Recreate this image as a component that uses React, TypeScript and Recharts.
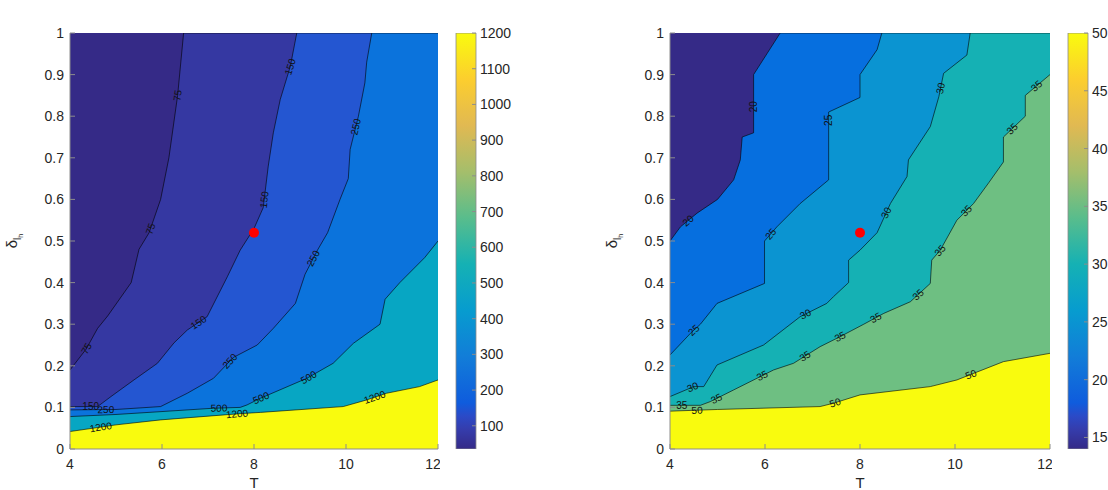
import React from "react";
import { ComposedChart, Area, Bar, XAxis, YAxis, Scatter, ReferenceArea } from "recharts";

type Pt = { T: number; d: number };
type Lbl = { T: number; d: number; v: number };

// axis ticks
const tTicks = [4, 6, 8, 10, 12];
const dTicks = [0, 0.1, 0.2, 0.3, 0.4, 0.5, 0.6, 0.7, 0.8, 0.9, 1];
const barTicksA = [100, 200, 300, 400, 500, 600, 700, 800, 900, 1000, 1100, 1200];
const barTicksB = [15, 20, 25, 30, 35, 40, 45, 50];
const barRangeA = [{ k: "a", range: [35, 1200] }];
const barRangeB = [{ k: "b", range: [14, 50] }];

// (a) contour levels, lines run from the left/bottom edge to the top/right edge
const levelsA = [75, 150, 250, 500, 1200];
const lineA75: Pt[] = [
  { T: 4, d: 0.19 }, { T: 4.35, d: 0.24 }, { T: 4.6, d: 0.29 }, { T: 4.82, d: 0.32 },
  { T: 5.33, d: 0.4 }, { T: 5.5, d: 0.48 }, { T: 5.72, d: 0.52 }, { T: 5.97, d: 0.6 },
  { T: 6.15, d: 0.7 }, { T: 6.34, d: 0.85 }, { T: 6.47, d: 1 }, { T: 12, d: 1 },
];
const lineA150: Pt[] = [
  { T: 4, d: 0.102 }, { T: 4.6, d: 0.102 }, { T: 4.89, d: 0.126 }, { T: 5.39, d: 0.166 },
  { T: 5.9, d: 0.206 }, { T: 6.26, d: 0.255 }, { T: 6.55, d: 0.286 }, { T: 6.98, d: 0.318 },
  { T: 7.42, d: 0.414 }, { T: 7.7, d: 0.478 }, { T: 8.0, d: 0.53 }, { T: 8.2, d: 0.58 },
  { T: 8.31, d: 0.68 }, { T: 8.42, d: 0.76 }, { T: 8.57, d: 0.84 }, { T: 8.79, d: 0.92 },
  { T: 8.93, d: 1 }, { T: 12, d: 1 },
];
const lineA250: Pt[] = [
  { T: 4, d: 0.094 }, { T: 5.0, d: 0.095 }, { T: 5.97, d: 0.102 }, { T: 6.55, d: 0.134 },
  { T: 7.12, d: 0.17 }, { T: 7.55, d: 0.22 }, { T: 8.07, d: 0.25 }, { T: 8.42, d: 0.29 },
  { T: 8.9, d: 0.35 }, { T: 9.11, d: 0.42 }, { T: 9.38, d: 0.478 }, { T: 9.6, d: 0.52 },
  { T: 9.87, d: 0.6 }, { T: 10.05, d: 0.65 }, { T: 10.09, d: 0.72 }, { T: 10.27, d: 0.8 },
  { T: 10.41, d: 0.88 }, { T: 10.45, d: 0.93 }, { T: 10.56, d: 1 }, { T: 12, d: 1 },
];
const lineA500: Pt[] = [
  { T: 4, d: 0.078 }, { T: 5, d: 0.083 }, { T: 6, d: 0.09 }, { T: 7.12, d: 0.098 },
  { T: 7.7, d: 0.1 }, { T: 7.85, d: 0.106 }, { T: 8.14, d: 0.122 }, { T: 9.15, d: 0.17 },
  { T: 9.72, d: 0.206 }, { T: 10.16, d: 0.254 }, { T: 10.74, d: 0.3 }, { T: 10.85, d: 0.36 },
  { T: 11.17, d: 0.4 }, { T: 11.71, d: 0.46 }, { T: 12, d: 0.5 },
];
const lineA1200: Pt[] = [
  { T: 4, d: 0.042 }, { T: 5, d: 0.058 }, { T: 5.97, d: 0.07 }, { T: 7.7, d: 0.085 },
  { T: 8.14, d: 0.088 }, { T: 9.94, d: 0.102 }, { T: 10.45, d: 0.118 }, { T: 10.88, d: 0.134 },
  { T: 11.6, d: 0.15 }, { T: 12, d: 0.166 },
];
const labelsA: Lbl[] = [
  { T: 6.34, d: 0.85, v: 75 }, { T: 5.72, d: 0.53, v: 75 }, { T: 4.3, d: 0.245, v: 75 },
  { T: 4.45, d: 0.1, v: 150 }, { T: 6.82, d: 0.3, v: 150 }, { T: 8.17, d: 0.6, v: 150 },
  { T: 8.75, d: 0.92, v: 150 },
  { T: 4.78, d: 0.094, v: 250 }, { T: 7.49, d: 0.21, v: 250 }, { T: 9.26, d: 0.46, v: 250 },
  { T: 10.2, d: 0.775, v: 250 },
  { T: 7.24, d: 0.098, v: 500 }, { T: 8.17, d: 0.118, v: 500 }, { T: 9.18, d: 0.174, v: 500 },
  { T: 4.67, d: 0.05, v: 1200 }, { T: 7.63, d: 0.086, v: 1200 }, { T: 10.63, d: 0.122, v: 1200 },
];

// (b)
const levelsB = [20, 25, 30, 35, 50];
const lineB20: Pt[] = [
  { T: 4, d: 0.5 }, { T: 4.22, d: 0.534 }, { T: 4.57, d: 0.567 }, { T: 5.0, d: 0.6 },
  { T: 5.34, d: 0.647 }, { T: 5.48, d: 0.695 }, { T: 5.52, d: 0.75 }, { T: 5.76, d: 0.76 },
  { T: 5.76, d: 0.9 }, { T: 6.04, d: 0.95 }, { T: 6.32, d: 1 }, { T: 12, d: 1 },
];
const lineB25: Pt[] = [
  { T: 4, d: 0.226 }, { T: 4.43, d: 0.278 }, { T: 4.64, d: 0.3 }, { T: 4.99, d: 0.35 },
  { T: 5.99, d: 0.398 }, { T: 5.99, d: 0.5 }, { T: 6.25, d: 0.534 }, { T: 6.74, d: 0.59 },
  { T: 7.34, d: 0.647 }, { T: 7.34, d: 0.81 }, { T: 8.0, d: 0.845 }, { T: 8.0, d: 0.9 },
  { T: 8.36, d: 0.96 }, { T: 8.46, d: 1 }, { T: 12, d: 1 },
];
const lineB30: Pt[] = [
  { T: 4, d: 0.126 }, { T: 4.5, d: 0.15 }, { T: 4.71, d: 0.15 }, { T: 4.99, d: 0.202 },
  { T: 5.97, d: 0.25 }, { T: 6.74, d: 0.318 }, { T: 7.3, d: 0.35 }, { T: 7.44, d: 0.366 },
  { T: 7.76, d: 0.4 }, { T: 7.76, d: 0.454 }, { T: 8.0, d: 0.478 }, { T: 8.36, d: 0.52 },
  { T: 8.64, d: 0.59 }, { T: 8.99, d: 0.655 }, { T: 9.02, d: 0.695 }, { T: 9.48, d: 0.775 },
  { T: 9.66, d: 0.847 }, { T: 9.76, d: 0.903 }, { T: 10.25, d: 0.947 }, { T: 10.32, d: 1 },
  { T: 12, d: 1 },
];
const lineB35: Pt[] = [
  { T: 4, d: 0.105 }, { T: 4.64, d: 0.105 }, { T: 4.85, d: 0.114 }, { T: 5.34, d: 0.142 },
  { T: 6.18, d: 0.19 }, { T: 6.6, d: 0.206 }, { T: 7.16, d: 0.246 }, { T: 7.58, d: 0.27 },
  { T: 8.08, d: 0.3 }, { T: 8.5, d: 0.326 }, { T: 9.06, d: 0.354 }, { T: 9.48, d: 0.398 },
  { T: 9.51, d: 0.454 }, { T: 9.69, d: 0.478 }, { T: 10.04, d: 0.55 }, { T: 10.39, d: 0.59 },
  { T: 10.71, d: 0.64 }, { T: 11.02, d: 0.69 }, { T: 11.02, d: 0.75 }, { T: 11.48, d: 0.8 },
  { T: 11.48, d: 0.85 }, { T: 12, d: 0.9 },
];
const lineB50: Pt[] = [
  { T: 4, d: 0.091 }, { T: 5, d: 0.095 }, { T: 7.16, d: 0.102 }, { T: 7.44, d: 0.11 },
  { T: 8.0, d: 0.13 }, { T: 9.48, d: 0.15 }, { T: 10.04, d: 0.166 }, { T: 11.02, d: 0.21 },
  { T: 12, d: 0.23 },
];
const labelsB: Lbl[] = [
  { T: 5.73, d: 0.823, v: 20 }, { T: 4.37, d: 0.55, v: 20 },
  { T: 7.36, d: 0.79, v: 25 }, { T: 6.15, d: 0.514, v: 25 }, { T: 4.53, d: 0.282, v: 25 },
  { T: 4.5, d: 0.142, v: 30 }, { T: 6.88, d: 0.318, v: 30 }, { T: 8.57, d: 0.567, v: 30 },
  { T: 9.69, d: 0.867, v: 30 },
  { T: 4.25, d: 0.103, v: 35 }, { T: 5.0, d: 0.116, v: 35 }, { T: 5.97, d: 0.17, v: 35 },
  { T: 6.85, d: 0.222, v: 35 }, { T: 7.58, d: 0.27, v: 35 }, { T: 8.32, d: 0.318, v: 35 },
  { T: 9.2, d: 0.374, v: 35 }, { T: 9.72, d: 0.474, v: 35 }, { T: 10.22, d: 0.575, v: 35 },
  { T: 11.2, d: 0.77, v: 35 }, { T: 11.73, d: 0.871, v: 35 },
  { T: 4.57, d: 0.091, v: 50 }, { T: 7.48, d: 0.11, v: 50 }, { T: 10.34, d: 0.178, v: 50 },
];

const marker: Pt[] = [{ T: 8, d: 0.52 }];

// region fills, lowest region first
const fillsA = ["#352A87", "#3538A2", "#2456D1", "#0B73DC", "#07A6C3", "#F9FB0E"];
const fillsB = ["#352A87", "#066FDF", "#0B94D1", "#15B1B4", "#6EBF82", "#F9FB0E"];

const parula = [
  [0, "#352A87"], [0.048, "#353DAD"], [0.079, "#2B4AC7"], [0.111, "#0F5CDD"],
  [0.222, "#127DD8"], [0.333, "#079CCF"], [0.444, "#15B1B4"], [0.556, "#59BD8C"],
  [0.667, "#A5BE6B"], [0.778, "#E1B952"], [0.889, "#FCCE2E"], [1, "#F9FB0E"],
] as const;

const FONT = '"Liberation Sans", Arial, Helvetica, sans-serif';
const AX = "#8c8c8c";
const TXT = "#262626";
const H = 490;
const TOP = 33;
const BOTTOM = 41;
const YW = 70;

function placeLabel(l: Lbl, line: Pt[], pxT: number, pxD: number) {
  let best = { dist: Infinity, T: l.T, d: l.d, ang: 0 };
  const px = l.T * pxT;
  const py = -l.d * pxD;
  for (let i = 0; i < line.length - 1; i++) {
    const ax = line[i].T * pxT, ay = -line[i].d * pxD;
    const bx = line[i + 1].T * pxT, by = -line[i + 1].d * pxD;
    const dx = bx - ax, dy = by - ay;
    const len2 = dx * dx + dy * dy;
    if (len2 === 0) continue;
    const t = Math.max(0, Math.min(1, ((px - ax) * dx + (py - ay) * dy) / len2));
    const qx = ax + t * dx, qy = ay + t * dy;
    const dist = (px - qx) ** 2 + (py - qy) ** 2;
    if (dist < best.dist) {
      let ang = (Math.atan2(dy, dx) * 180) / Math.PI;
      if (ang > 90) ang -= 180;
      if (ang < -90) ang += 180;
      best = { dist, T: qx / pxT, d: -qy / pxD, ang };
    }
  }
  return { T: best.T, d: best.d, v: l.v, ang: best.ang };
}

const ContourText = (p: any) => (
  <text
    x={p.cx}
    y={p.cy}
    transform={`rotate(${p.payload.ang} ${p.cx} ${p.cy})`}
    textAnchor="middle"
    dominantBaseline="central"
    fontSize={10}
    fill="#111"
  >
    {p.payload.v}
  </text>
);

const RedDot = (p: any) => <circle cx={p.cx} cy={p.cy} r={5} fill="#ff0000" />;

const DeltaLabel = (p: any) => {
  const { x, y, height } = p.viewBox;
  return (
    <text
      transform={`translate(${x + 17},${y + height / 2}) rotate(-90)`}
      textAnchor="middle"
      fontSize={15}
      fill={TXT}
    >
      δ<tspan fontSize={10} dy={4}>l</tspan>
      <tspan fontSize={7} dy={2}>h</tspan>
    </text>
  );
};

function ContourPanel({
  left,
  width,
  title,
  lines,
  levels,
  fills,
  labels,
}: {
  left: number;
  width: number;
  title: string;
  lines: Pt[][];
  levels: number[];
  fills: string[];
  labels: Lbl[];
}) {
  const plotW = width - YW - 2;
  const pxT = plotW / 8;
  const pxD = H - TOP - BOTTOM;
  const placed = labels.map((l) => placeLabel(l, lines[levels.indexOf(l.v)], pxT, pxD));
  return (
    <div style={{ position: "absolute", left, top: 0 }}>
      <ComposedChart width={width} height={H} margin={{ top: TOP, right: 2, bottom: 0, left: 0 }}>
        <ReferenceArea x1={4} x2={12} y1={0} y2={1} fill={fills[0]} fillOpacity={1} stroke="none" />
        {lines.map((ln, i) => (
          <Area
            key={i}
            data={ln}
            dataKey="d"
            type="linear"
            baseValue={0}
            fill={fills[i + 1]}
            fillOpacity={1}
            stroke="#000"
            strokeWidth={0.6}
            dot={false}
            activeDot={false}
            isAnimationActive={false}
          />
        ))}
        <Scatter data={placed} shape={ContourText} isAnimationActive={false} />
        <Scatter data={marker} shape={RedDot} isAnimationActive={false} />
        <XAxis
          dataKey="T"
          type="number"
          domain={[4, 12]}
          ticks={tTicks}
          allowDataOverflow
          height={BOTTOM}
          tickSize={-5}
          tickMargin={15}
          axisLine={{ stroke: AX }}
          tickLine={{ stroke: AX }}
          tick={{ fontSize: 14, fill: TXT }}
          label={{ value: "T", position: "insideBottom", offset: 2, fontSize: 15, fill: TXT }}
        />
        <XAxis
          xAxisId="top"
          orientation="top"
          type="number"
          domain={[4, 12]}
          ticks={tTicks}
          height={0}
          tickSize={-5}
          axisLine={{ stroke: AX }}
          tickLine={{ stroke: AX }}
          tick={false}
          label={{ value: title, position: "top", offset: 3, fontSize: 15, fill: "#000" }}
        />
        <YAxis
          dataKey="d"
          type="number"
          domain={[0, 1]}
          ticks={dTicks}
          allowDataOverflow
          width={YW}
          tickSize={-5}
          tickMargin={11}
          axisLine={{ stroke: AX }}
          tickLine={{ stroke: AX }}
          tick={{ fontSize: 14, fill: TXT }}
          label={{ content: DeltaLabel }}
        />
        <YAxis
          yAxisId="right"
          orientation="right"
          type="number"
          domain={[0, 1]}
          ticks={dTicks}
          width={0}
          tickSize={-5}
          axisLine={{ stroke: AX }}
          tickLine={{ stroke: AX }}
          tick={false}
        />
      </ComposedChart>
    </div>
  );
}

function Colorbar({
  left,
  data,
  ticks,
  gid,
}: {
  left: number;
  data: { k: string; range: number[] }[];
  ticks: number[];
  gid: string;
}) {
  const domain = data[0].range;
  return (
    <div style={{ position: "absolute", left, top: 0 }}>
      <ComposedChart
        width={90}
        height={H}
        data={data}
        barCategoryGap={0}
        margin={{ top: TOP, right: 0, bottom: BOTTOM, left: 16 }}
      >
        <defs>
          <linearGradient id={gid} x1="0" y1="1" x2="0" y2="0">
            {parula.map(([o, c]) => (
              <stop key={o} offset={o} stopColor={c} />
            ))}
          </linearGradient>
        </defs>
        <XAxis dataKey="k" type="category" hide />
        <Bar dataKey="range" fill={`url(#${gid})`} stroke={AX} strokeWidth={0.8} isAnimationActive={false} />
        <YAxis
          orientation="right"
          type="number"
          domain={domain}
          ticks={ticks}
          allowDataOverflow
          width={54}
          tickSize={-4}
          tickMargin={8}
          axisLine={false}
          tickLine={{ stroke: AX }}
          tick={{ fontSize: 14, fill: TXT, textAnchor: "start" }}
        />
      </ComposedChart>
    </div>
  );
}

export default function App() {
  return (
    <div
      style={{
        position: "fixed",
        left: 0,
        top: 0,
        width: 1108,
        height: H,
        background: "#fff",
        overflow: "hidden",
        fontFamily: FONT,
      }}
    >
      <ContourPanel
        left={0}
        width={440}
        title="(a)"
        lines={[lineA75, lineA150, lineA250, lineA500, lineA1200]}
        levels={levelsA}
        fills={fillsA}
        labels={labelsA}
      />
      <Colorbar left={440} data={barRangeA} ticks={barTicksA} gid="parulaA" />
      <ContourPanel
        left={600}
        width={452}
        title="(b)"
        lines={[lineB20, lineB25, lineB30, lineB35, lineB50]}
        levels={levelsB}
        fills={fillsB}
        labels={labelsB}
      />
      <Colorbar left={1052} data={barRangeB} ticks={barTicksB} gid="parulaB" />
    </div>
  );
}
